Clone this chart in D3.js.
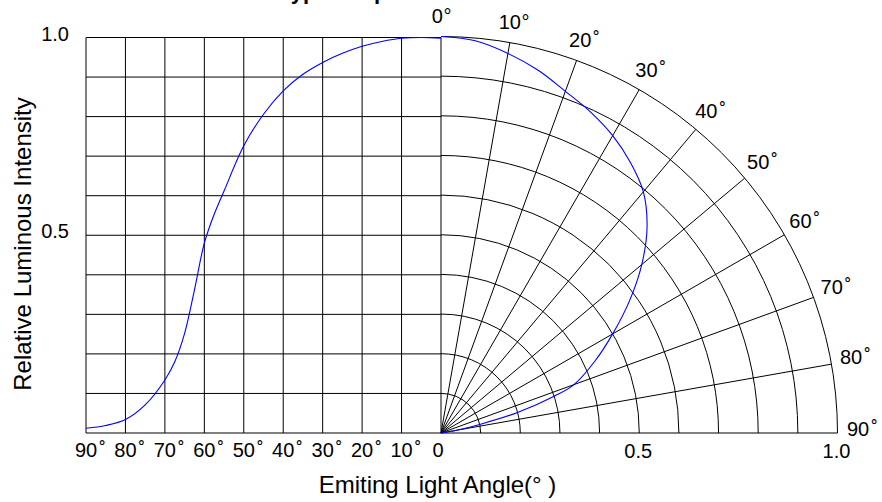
<!DOCTYPE html>
<html>
<head>
<meta charset="utf-8">
<script src="https://cdn.jsdelivr.net/npm/d3@7"></script>
<style>
  html, body { margin: 0; padding: 0; background: #fff; }
  svg { display: block; font-family: "Liberation Sans", Arial, sans-serif; }
</style>
</head>
<body>
<svg id="chart" width="882" height="502"></svg>
<script>
// ---------- data ----------
const titleText = "Typical Spatial Distribution";
const xTitle = "Emiting Light Angle(° )";
const yTitle = "Relative Luminous Intensity";

const gridAngles = [90, 80, 70, 60, 50, 40, 30, 20, 10, 0];
const gridIntensity = [0.1, 0.2, 0.3, 0.4, 0.5, 0.6, 0.7, 0.8, 0.9, 1.0];
const yTickValues = [1.0, 0.5];
const yTickLabels = ["1.0", "0.5"];
const bottomAngleLabels = ["90", "80", "70", "60", "50", "40", "30", "20", "10"];
const radialTickValues = [0.5, 1.0];
const radialTickLabels = ["0.5", "1.0"];
const polarLabelAngles = [0, 10, 20, 30, 40, 50, 60, 70, 80, 90];

// Left (Cartesian) curve: angle (deg) vs relative intensity
const leftAngles =    [90, 85, 80, 75, 70, 67.5, 65, 62.5, 60, 57.5, 55, 50, 45, 40, 35, 30, 25, 20, 15, 10, 5, 0];
const leftIntensity = [0.012, 0.019, 0.034, 0.071, 0.134, 0.180, 0.252, 0.362, 0.48, 0.553, 0.612, 0.726, 0.806, 0.865, 0.907, 0.937, 0.96, 0.978, 0.99, 0.998, 1.0, 0.998];

// Right (polar) curve
const polarAngles =    [0, 5, 10, 15, 20, 25, 30, 35, 40, 45, 50, 55, 60, 65, 70, 72, 75, 77.5, 80, 90];
const polarIntensity = [1.0, 0.993, 0.972, 0.947, 0.917, 0.893, 0.866, 0.833, 0.794, 0.735, 0.661, 0.58, 0.5, 0.428, 0.357, 0.3, 0.2, 0.1, 0.04, 0];

// ---------- layout ----------
const svg = d3.select("#chart");
const cx = 441, cy = 433;
const x = d3.scaleLinear().domain([90, 0]).range([86, cx]);
const y = d3.scaleLinear().domain([0, 1]).range([cy, 37.5]);
const r = d3.scaleLinear().domain([0, 1]).range([0, 396.5]);
const rad = d => d * Math.PI / 180;

const grid = svg.append("g").attr("stroke", "#000").attr("stroke-width", 1).attr("fill", "none");

// Left grid: vertical lines
grid.selectAll("line.v").data(gridAngles).join("line")
  .attr("x1", d => x(d)).attr("x2", d => x(d))
  .attr("y1", y(0)).attr("y2", y(1));
// Left grid: horizontal lines
grid.selectAll("line.h").data(gridIntensity).join("line")
  .attr("x1", x(90)).attr("x2", x(0))
  .attr("y1", d => y(d)).attr("y2", d => y(d));
// Bottom axis line (both halves)
grid.append("line").attr("x1", x(90)).attr("x2", cx + r(1)).attr("y1", cy).attr("y2", cy);

// Polar rings
grid.selectAll("path.ring").data(gridIntensity).join("path")
  .attr("d", d => { const p = d3.path(); p.moveTo(cx, cy - r(d)); p.arc(cx, cy, r(d), -Math.PI / 2, 0); return p.toString(); });
// Polar spokes
grid.selectAll("line.spoke").data(gridAngles.filter(a => a > 0 && a < 90)).join("line")
  .attr("x1", cx).attr("y1", cy)
  .attr("x2", d => cx + r(1) * Math.sin(rad(d)))
  .attr("y2", d => cy - r(1) * Math.cos(rad(d)));

// ---------- curves ----------
const leftData = leftAngles.map((a, i) => [a, leftIntensity[i]]);
svg.append("path").datum(leftData)
  .attr("fill", "none").attr("stroke", "#0000ff").attr("stroke-width", 1.1)
  .attr("d", d3.line().x(d => x(d[0])).y(d => y(d[1])).curve(d3.curveCatmullRom.alpha(0.5)));

const polarData = polarAngles.map((a, i) => [a, polarIntensity[i]]);
svg.append("path").datum(polarData)
  .attr("transform", `translate(${cx},${cy})`)
  .attr("fill", "none").attr("stroke", "#0000ff").attr("stroke-width", 1.1)
  .attr("d", d3.lineRadial().angle(d => rad(d[0])).radius(d => r(d[1])).curve(d3.curveCatmullRom.alpha(0.5)));

// ---------- text ----------
const fs = 20;
const txt = svg.append("g").attr("fill", "#000").attr("font-size", fs);

// y tick labels
txt.selectAll("text.yt").data(yTickValues).join("text")
  .attr("x", 69).attr("y", d => y(d) + 3).attr("text-anchor", "end")
  .text((d, i) => yTickLabels[i]);

// degree helper: tight "°" or spaced ring "˚"
function addDegree(textSel, spaced) {
  textSel.each(function () {
    const t = d3.select(this);
    const w = this.getComputedTextLength();
    const anchorX = +t.attr("x");
    const ax = t.attr("text-anchor") === "middle" ? anchorX + w / 2 : anchorX + w;
    const by = +t.attr("y");
    if (spaced) {
      txt.append("text").attr("x", ax + 2).attr("y", by).text("˚");
    } else {
      txt.append("text").attr("x", ax + 0.5).attr("y", by).text("°");
    }
  });
}

// bottom angle labels (left half)
const bl = txt.selectAll("text.bt").data(bottomAngleLabels).join("text")
  .attr("x", d => x(+d)).attr("y", 457).attr("text-anchor", "middle").text(d => d);
addDegree(bl, true);
txt.append("text").attr("x", x(0) - 3).attr("y", 457).attr("text-anchor", "middle").text("0");

// radial value labels (right half)
txt.selectAll("text.rt").data(radialTickValues).join("text")
  .attr("x", d => cx + r(d) - 1).attr("y", 458).attr("text-anchor", "middle")
  .text((d, i) => radialTickLabels[i]);

// polar angle labels
polarLabelAngles.forEach(a => {
  const rr = r(1.052);
  const th = rad(a - 0.5);
  const px = cx + rr * Math.sin(th);
  const py = cy - rr * Math.cos(th) + 7;
  const t = txt.append("text").attr("x", px).attr("y", py).attr("text-anchor", "middle").text(a);
  addDegree(t, a >= 20);
});

// axis titles
svg.append("text").attr("x", 437.5).attr("y", 493).attr("text-anchor", "middle")
  .attr("font-size", 24).text(xTitle);
svg.append("text").attr("transform", "translate(30.5,244) rotate(-90)").attr("text-anchor", "middle")
  .attr("font-size", 24).text(yTitle);

// chart title (cut off at top, as in the reference)
svg.append("text").attr("x", 420).attr("y", -1).attr("text-anchor", "middle")
  .attr("font-size", 22).attr("font-weight", "bold").text(titleText);
</script>
</body>
</html>
